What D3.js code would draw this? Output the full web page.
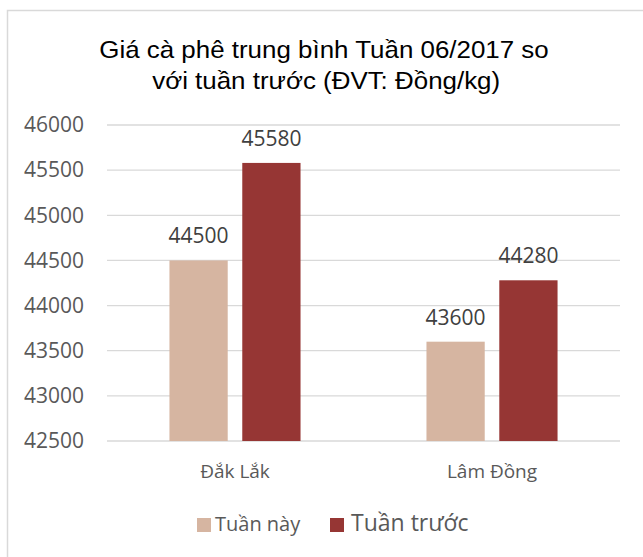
<!DOCTYPE html>
<html>
<head>
<meta charset="utf-8">
<script src="https://cdn.jsdelivr.net/npm/d3@7"></script>
<style>
  body { margin: 0; background: #fff; }
</style>
</head>
<body>
<script>
// data
const categories = ["Đắk Lắk", "Lâm Đồng"];
const seriesNames = ["Tuần này", "Tuần trước"];
const tuanNay = [44500, 43600];
const tuanTruoc = [45580, 44280];
const yTicks = [42500, 43000, 43500, 44000, 44500, 45000, 45500, 46000];
const colors = ["#d6b5a1", "#963634"];

const sans = "'Open Sans', sans-serif";

const svg = d3.select("body")
              .append("svg")
              .attr("width", 643)
              .attr("height", 557)
              .style("font-family", sans);

// chart box border (runs off the right and bottom)
svg.append("rect")
   .attr("x", 7.5)
   .attr("y", 10.5)
   .attr("width", 700)
   .attr("height", 600)
   .attr("fill", "#fff")
   .attr("stroke", "#d9d9d9")
   .attr("stroke-width", 1.5);

// title, a bit wider than plain Arial
const title = svg.append("g")
                 .attr("transform", "translate(324,0) scale(1.08,1)")
                 .append("text")
                 .attr("text-anchor", "middle")
                 .style("font-family", "'Liberation Sans', Arial, sans-serif")
                 .style("font-size", "24px")
                 .attr("fill", "#000");
title.append("tspan").attr("x", 0).attr("y", 58).text("Giá cà phê trung bình Tuần 06/2017 so");
title.append("tspan").attr("x", 2).attr("y", 89).text("với tuần trước (ĐVT: Đồng/kg)");

const y = d3.scaleLinear()
            .domain([42500, 46000])
            .range([441, 125]);

const x0 = d3.scaleBand()
             .domain(categories)
             .range([107, 620])
             .paddingInner(0.49)
             .paddingOuter(0.243);

const x1 = d3.scaleBand()
             .domain(seriesNames)
             .range([0, x0.bandwidth()])
             .paddingInner(0.2);

// gridlines
svg.append("g")
   .selectAll("line")
   .data(yTicks)
   .enter()
   .append("line")
   .attr("x1", 107)
   .attr("x2", 620)
   .attr("y1", d => y(d))
   .attr("y2", d => y(d))
   .attr("stroke", "#d9d9d9")
   .attr("stroke-width", 1.3);

// y axis labels
const yAxis = svg.append("g")
   .attr("transform", "translate(84,0)")
   .call(d3.axisLeft(y).tickValues(yTicks).tickSize(0).tickPadding(0).tickFormat(d3.format("d")));
yAxis.select(".domain").remove();
yAxis.attr("font-family", null).attr("font-size", null);
yAxis.selectAll("text")
     .style("font-size", "21px")
     .attr("fill", "#595959");

const rows = categories.map((c, i) => ({cat: c, vals: [tuanNay[i], tuanTruoc[i]]}));

const groups = svg.selectAll(".grp")
   .data(rows)
   .enter()
   .append("g")
   .attr("transform", d => "translate(" + x0(d.cat) + ",0)");

groups.selectAll("rect")
      .data(d => d.vals.map((v, j) => ({s: seriesNames[j], v: v, j: j})))
      .enter()
      .append("rect")
      .attr("x", d => x1(d.s))
      .attr("y", d => y(d.v))
      .attr("width", x1.bandwidth())
      .attr("height", d => y(42500) - y(d.v))
      .attr("fill", d => colors[d.j]);

groups.selectAll(".lbl")
      .data(d => d.vals.map((v, j) => ({s: seriesNames[j], v: v})))
      .enter()
      .append("text")
      .attr("x", d => x1(d.s) + x1.bandwidth() / 2)
      .attr("y", d => y(d.v) - 17)
      .attr("text-anchor", "middle")
      .style("font-size", "21px")
      .attr("fill", "#404040")
      .text(d => d.v);

// x axis labels
svg.selectAll(".cat")
   .data(categories)
   .enter()
   .append("text")
   .attr("x", d => x0(d) + x0.bandwidth() / 2)
   .attr("y", 478)
   .attr("text-anchor", "middle")
   .style("font-size", "19px")
   .attr("fill", "#595959")
   .text(d => d);

// legend
const legend = [
  {name: seriesNames[0], x: 197, size: 14, fs: 20, tx: 215},
  {name: seriesNames[1], x: 330, size: 14, fs: 23, tx: 351}
];
legend.forEach((l, i) => {
  svg.append("rect")
     .attr("x", l.x)
     .attr("y", 518)
     .attr("width", l.size)
     .attr("height", l.size)
     .attr("fill", colors[i]);
  svg.append("text")
     .attr("x", l.tx)
     .attr("y", 531)
     .style("font-size", l.fs + "px")
     .attr("fill", "#595959")
     .text(l.name);
});
</script>
</body>
</html>
